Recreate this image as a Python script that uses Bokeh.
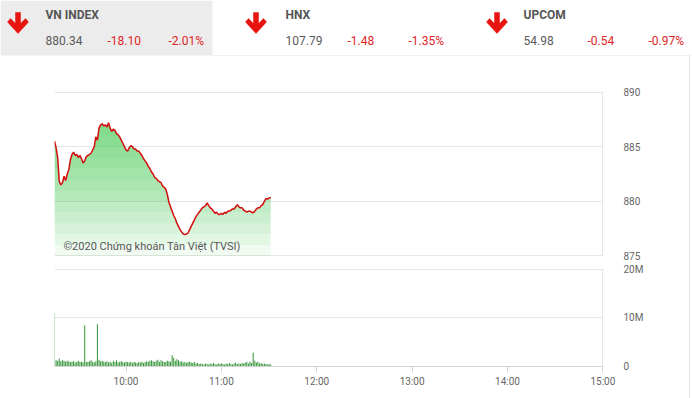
import numpy as np
from bokeh.plotting import figure
from bokeh.layouts import column
from bokeh.models import Range1d, LinearAxis, FixedTicker, Label
from bokeh.embed import file_html
from bokeh.resources import INLINE
from bokeh.core.properties import value

# ---------------- data ----------------
session_start = "09:15"   # first minute of the series
session_end = "15:00"

# VN-Index, one value per minute from 09:15
price = [
    885.5, 884.9, 884.0, 881.8, 881.5, 881.7, 882.3, 881.9, 882.5, 882.9,
    883.8, 884.3, 884.5, 884.2, 884.3, 884.0, 884.2, 883.9, 883.5, 883.7,
    884.1, 884.2, 884.3, 884.4, 884.7, 885.0, 885.9, 885.6, 886.7, 887.0,
    887.1, 886.9, 887.0, 886.8, 887.2, 886.7, 886.4, 886.6, 886.5, 886.2,
    886.1, 885.9, 885.6, 885.3, 885.0, 884.7, 884.6, 884.9, 885.1, 885.0,
    884.8, 884.8, 884.6, 884.6, 884.4, 884.2, 883.9, 883.7, 883.5, 883.2,
    883.0, 882.7, 882.5, 882.2, 882.1, 881.9, 881.8, 881.7, 881.4, 881.3,
    881.1, 880.6, 879.9, 879.5, 879.1, 878.7, 878.4, 878.0, 877.7, 877.4,
    877.2, 877.0, 876.95, 877.0, 877.1, 877.4, 877.7, 878.0, 878.3, 878.6,
    878.8, 879.0, 879.2, 879.4, 879.5, 879.6, 879.85, 879.6, 879.4, 879.3,
    879.1, 878.9, 879.0, 878.8, 878.8, 878.9, 878.8, 879.0, 878.9, 879.1,
    879.1, 879.2, 879.3, 879.3, 879.5, 879.7, 879.5, 879.4, 879.4, 879.2,
    879.1, 879.0, 879.1, 879.1, 879.0, 878.95, 879.1, 879.3, 879.4, 879.4,
    879.6, 879.7, 880.0, 880.25, 880.2, 880.3, 880.34,
]

# matched volume (millions of shares), one value per minute from 09:15
volume_m = [
    11.0, 1.3, 1.2, 1.6, 1.1, 1.3, 1.2, 1.0, 1.2, 1.1,
    0.9, 1.0, 1.1, 0.8, 1.0, 1.2, 0.9, 1.0, 0.8, 8.4,
    1.0, 0.9, 1.1, 1.3, 1.0, 0.8, 1.1, 8.7, 1.4, 1.1,
    1.2, 1.0, 0.9, 1.1, 0.8, 1.0, 0.7, 1.2, 0.9, 1.3,
    0.8, 1.0, 1.1, 0.9, 0.8, 1.0, 0.9, 0.8, 1.0, 0.7,
    0.9, 0.8, 0.7, 0.9, 0.8, 1.0, 0.7, 0.9, 1.1, 1.0,
    1.2, 1.3, 1.1, 0.9, 1.2, 1.4, 1.0, 1.3, 1.1, 0.9,
    1.0, 1.2, 1.1, 1.0, 2.3, 1.8, 1.2, 1.5, 1.3, 1.0,
    1.1, 0.8, 0.9, 0.7, 0.9, 1.0, 0.8, 0.7, 0.9, 0.6,
    0.7, 0.5, 0.6, 0.5, 0.4, 0.6, 0.5, 0.4, 0.6, 0.5,
    0.7, 0.5, 0.4, 0.6, 0.5, 0.6, 0.5, 0.4, 0.6, 0.5,
    0.7, 0.5, 0.4, 0.6, 0.8, 0.5, 0.6, 0.5, 0.7, 0.6,
    0.8, 0.9, 0.6, 1.0, 0.7, 2.8, 1.2, 0.8, 1.0, 0.6,
    0.7, 0.5, 0.6, 0.5, 0.4, 0.5, 0.4,
]

index_names = ["VN INDEX", "HNX", "UPCOM"]
index_values = ["880.34", "107.79", "54.98"]
index_changes = ["-18.10", "-1.48", "-0.54"]
index_pcts = ["-2.01%", "-1.35%", "-0.97%"]

x_tick_labels = ["10:00", "11:00", "12:00", "13:00", "14:00", "15:00"]
price_ticks = [875, 880, 885, 890]
vol_ticks = [0, 10, 20]
vol_tick_labels = ["0", "10M", "20M"]
watermark = "©2020 Chứng khoán Tân Việt (TVSI)"

# ---------------- helpers ----------------
def to_hours(s):
    h, m = s.split(":")
    return int(h) + int(m) / 60.0

t0 = to_hours(session_start)
t_end = to_hours(session_end)
t_price = t0 + np.arange(len(price)) / 60.0
t_vol = t0 + np.arange(len(volume_m)) / 60.0
x_ticks = [to_hours(s) for s in x_tick_labels]
price_arr = np.array(price)

FRAME_W, PRICE_H, VOL_H = 550, 165, 98
x_pad = 0.6 * (t_end - t0) / FRAME_W                       # keep edge lines inside the frame
p_pad = 0.6 * (price_ticks[-1] - price_ticks[0]) / PRICE_H
v_pad = 0.6 * vol_ticks[-1] / VOL_H

FONT = "Roboto"
GRID = "#e6e6e6"
EDGE = "#e2e2e2"
LABEL = "#666666"
RED = "#e02424"

# ---------------- header ----------------
hdr = figure(width=692, height=56, x_range=Range1d(0, 692), y_range=Range1d(56, 0),
             toolbar_location=None, output_backend="svg", min_border=0,
             x_axis_location=None, y_axis_location=None)
hdr.frame_align = False
hdr.grid.visible = False
hdr.outline_line_color = None

hdr.quad(left=[0], right=[212], top=[0], bottom=[55], fill_color="#ececec", line_color=None)
hdr.segment(x0=[212], y0=[55.5], x1=[690.5], y1=[55.5], line_color=EDGE, line_width=1)
hdr.segment(x0=[690.5], y0=[55.5], x1=[690.5], y1=[56], line_color=EDGE, line_width=1)

panel_x = [7, 245, 486]
arrow_shape_x = [8, 13, 13, 18, 21, 10.5, 0, 3, 8]
arrow_shape_y = [12, 12, 23, 18, 21.5, 33, 21.5, 18, 23]
hdr.patches(xs=[[px + ax for ax in arrow_shape_x] for px in panel_x],
            ys=[arrow_shape_y for _ in panel_x],
            fill_color="#e8140f", line_color="#e8140f", line_width=0.5)

name_x = [45, 285, 523]
chg_x = [107, 347, 587]
pct_x = [168, 408, 648]
hdr.text(x=name_x, y=[14] * 3, text=index_names, text_font=value(FONT),
         text_font_style="bold", text_font_size="12px", text_color="#555555",
         text_baseline="middle", text_align="left")
hdr.text(x=name_x, y=[40] * 3, text=index_values, text_font=value(FONT),
         text_font_size="12px", text_color="#5a5a5a",
         text_baseline="middle", text_align="left")
hdr.text(x=chg_x, y=[40] * 3, text=index_changes, text_font=value(FONT),
         text_font_size="12px", text_color=RED,
         text_baseline="middle", text_align="left")
hdr.text(x=pct_x, y=[40] * 3, text=index_pcts, text_font=value(FONT),
         text_font_size="12px", text_color=RED,
         text_baseline="middle", text_align="left")

# ---------------- price chart ----------------
pf = figure(width=690, height=206, x_range=Range1d(t0, t_end + x_pad),
            y_range=Range1d(price_ticks[0] - p_pad, price_ticks[-1] + p_pad),
            toolbar_location=None, output_backend="svg",
            x_axis_location=None, y_axis_location=None,
            min_border_left=54, min_border_right=86, min_border_top=35, min_border_bottom=6)
pf.outline_line_color = None
pf.xgrid.ticker = FixedTicker(ticks=[t_end])
pf.xgrid.grid_line_color = GRID
pf.ygrid.ticker = FixedTicker(ticks=price_ticks)
pf.ygrid.grid_line_color = GRID

ya = LinearAxis(ticker=FixedTicker(ticks=price_ticks))
ya.axis_line_color = None
ya.major_tick_line_color = None
ya.minor_tick_line_color = None
ya.major_label_text_color = LABEL
ya.major_label_text_font = FONT
ya.major_label_text_font_size = "10px"
ya.major_label_standoff = 14
pf.add_layout(ya, "right")

# vertical gradient fill made of stacked translucent layers
for lvl in range(price_ticks[0], 888):
    pf.varea(x=t_price, y1=np.minimum(price_arr, lvl), y2=price_arr,
             fill_color="#2fc43a", fill_alpha=0.066)
pf.line(t_price, price_arr, line_color="#d40d0d", line_width=1.5)

pf.add_layout(Label(x=t0 + 9 * (t_end - t0) / FRAME_W,
                    y=price_ticks[0] + 9 * (price_ticks[-1] - price_ticks[0]) / PRICE_H,
                    text=watermark, text_font=FONT, text_font_size="11px",
                    text_color="#555555", text_baseline="middle"))

# ---------------- volume chart ----------------
vf = figure(width=690, height=136, x_range=pf.x_range, y_range=Range1d(0, vol_ticks[-1] + v_pad),
            toolbar_location=None, output_backend="svg",
            x_axis_location=None, y_axis_location=None,
            min_border_left=54, min_border_right=86, min_border_top=6, min_border_bottom=32)
vf.outline_line_color = None
vf.xgrid.ticker = FixedTicker(ticks=[t_end])
vf.xgrid.grid_line_color = GRID
vf.ygrid.ticker = FixedTicker(ticks=vol_ticks[1:])
vf.ygrid.grid_line_color = GRID

vf.vbar(x=t_vol, top=volume_m, width=0.65 / 60, bottom=0,
        fill_color="#35963a", line_color=None)

xa = LinearAxis(ticker=FixedTicker(ticks=x_ticks),
                major_label_overrides={k: v for k, v in zip(x_ticks, x_tick_labels)})
xa.axis_line_color = "#d4d4d4"
xa.major_tick_line_color = "#d4d4d4"
xa.major_tick_out = 6
xa.major_tick_in = 0
xa.minor_tick_line_color = None
xa.major_label_text_color = LABEL
xa.major_label_text_font = FONT
xa.major_label_text_font_size = "10px"
xa.major_label_standoff = 3
vf.add_layout(xa, "below")

va = LinearAxis(ticker=FixedTicker(ticks=vol_ticks),
                major_label_overrides={k: v for k, v in zip(vol_ticks, vol_tick_labels)})
va.axis_line_color = None
va.major_tick_line_color = None
va.minor_tick_line_color = None
va.major_label_text_color = LABEL
va.major_label_text_font = FONT
va.major_label_text_font_size = "10px"
va.major_label_standoff = 14
vf.add_layout(va, "right")

charts = column(pf, vf, spacing=0, width=690,
                styles={"border-right": "1px solid " + EDGE})
layout = column(hdr, charts, spacing=0)

open("out.html", "w").write(file_html(layout, INLINE))
